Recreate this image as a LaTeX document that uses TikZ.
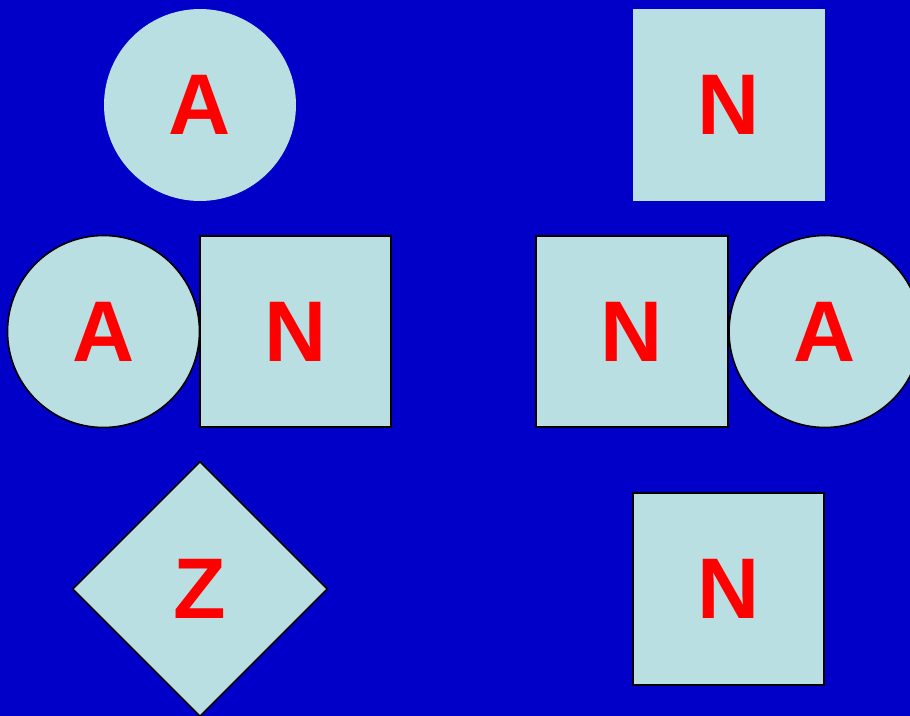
\documentclass[tikz,border=0pt]{standalone}
\usepackage{fontspec}
\newfontfamily\letterfont{Liberation Sans}
\usepackage{tikz}
\usetikzlibrary{positioning,shapes.geometric}
\usepackage{xcolor}
\definecolor{bgblue}{RGB}{0,0,200}
\definecolor{paleblue}{RGB}{185,223,226}
\definecolor{letterred}{RGB}{255,0,0}

\begin{document}
\begin{tikzpicture}[x=0.02cm,y=-0.02cm,
  every node/.style={font=\letterfont\bfseries\fontsize{49}{49}\selectfont,text=letterred,fill=paleblue,inner sep=0pt},
  circ/.style={circle,minimum size=3.84cm},
  sq/.style={rectangle,minimum size=3.83cm},
  dia/.style={diamond,aspect=1,minimum width=5.1cm,minimum height=5.1cm},
  edged/.style={draw=black,line width=0.9pt}]
  \fill[bgblue] (0,0) rectangle (910,716);
  \useasboundingbox (0,0) rectangle (910,716);
  % top row, no outline
  \node[circ] (atop) at (200,105) {A};
  \node[sq] (ntop) at (729,105) {N};
  % middle row
  \node[circ,edged] (aleft) at (103.5,331.5) {A};
  \node[sq,edged] (nleft) at (295.5,331.5) {N};
  \node[sq,edged] (nright) at (632,331.5) {N};
  \node[circ,edged] (aright) at (825,331.5) {A};
  % bottom row
  \node[dia,edged] (zbot) at (200,589) {Z};
  \node[sq,edged] (nbot) at (728.5,589) {N};
\end{tikzpicture}
\end{document}
